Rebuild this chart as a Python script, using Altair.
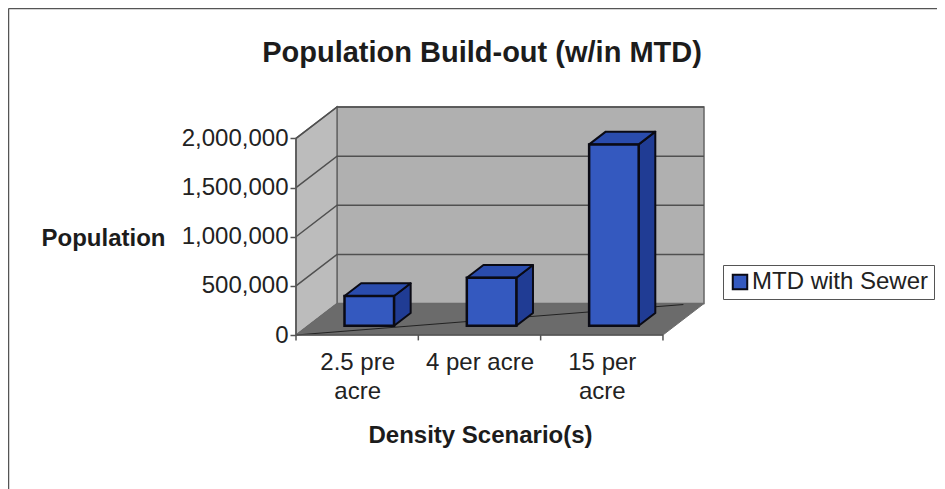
import json
import altair as alt
import pandas as pd

title_text = "Population Build-out (w/in MTD)"
x_title = "Density Scenario(s)"
y_title = "Population"
series_name = "MTD with Sewer"
categories = [["2.5 pre", "acre"], ["4 per acre"], ["15 per", "acre"]]
values = [302000, 488000, 1845000]
y_ticks = [0, 500000, 1000000, 1500000, 2000000]

# Oblique projection of the 3D box: how far the back plane shifts
DX, DY = 0.3355, 320000
D_FRONT, D_BACK = 0.295, 0.70
BAR_W = 0.405
YTOP = 2000000
N = len(categories)
FONT = "Liberation Sans"

xs = alt.Scale(domain=[0, N + DX], nice=False, zero=False)
ys = alt.Scale(domain=[0, YTOP + DY], nice=False, zero=False)
X = lambda f, **k: alt.X(f, type="quantitative", scale=xs, **k)
Y = lambda f, **k: alt.Y(f, type="quantitative", scale=ys, stack=None, **k)


def df(rows):
    return pd.DataFrame(rows)


# back wall
back = alt.Chart(df([{"x": DX, "x2": N + DX, "y": DY, "y2": YTOP + DY}])).mark_rect(
    color="#b0b0b0", stroke="#666666", strokeWidth=1.5
).encode(x=X("x"), x2="x2", y=Y("y"), y2="y2")

# left side wall
side = alt.Chart(df([
    {"x": 0, "y": 0, "y2": YTOP},
    {"x": DX, "y": DY, "y2": YTOP + DY},
])).mark_area(color="#bcbcbc", stroke="#666666", strokeWidth=1.5).encode(
    x=X("x"), y=Y("y"), y2="y2"
)

# floor
floor = alt.Chart(df([
    {"y": 0, "x": 0, "x2": N},
    {"y": DY, "x": DX, "x2": N + DX},
])).mark_area(orient="horizontal", color="#6b6b6b", stroke="#6b6b6b", strokeWidth=1).encode(
    y=Y("y"), x=X("x"), x2="x2"
)

# gridlines over the walls
grid_rows = []
for v in y_ticks[1:]:
    grid_rows += [
        {"g": v, "o": 0, "x": 0, "y": v},
        {"g": v, "o": 1, "x": DX, "y": v + DY},
        {"g": v, "o": 2, "x": N + DX, "y": v + DY},
    ]
grid = alt.Chart(df(grid_rows)).mark_line(color="#505050", strokeWidth=1.5).encode(
    x=X("x"), y=Y("y"), detail="g:N", order="o:Q"
)

# thin diagonal on the floor
diag = alt.Chart(df([
    {"x": 0, "y": 0},
    {"x": 3.167, "y": 310000},
])).mark_line(color="#222222", strokeWidth=1).encode(x=X("x"), y=Y("y"))

# front axis edges
edges = alt.Chart(df([
    {"g": "l", "o": 0, "x": 0, "y": YTOP},
    {"g": "l", "o": 1, "x": 0, "y": 0},
    {"g": "l", "o": 2, "x": N, "y": 0},
])).mark_line(color="#555555", strokeWidth=1.5).encode(
    x=X("x"), y=Y("y"), detail="g:N", order="o:Q"
)

# x tick marks under the front edge
xticks = alt.Chart(df([{"x": i, "y": 0, "y2": -55000} for i in range(N + 1)])).mark_rule(
    color="#555555", strokeWidth=1.5
).encode(x=X("x"), y=Y("y"), y2="y2")

# bar faces
front_rows, side_rows, top_rows = [], [], []
for i, v in enumerate(values):
    left = i + 0.5 + D_FRONT * DX - BAR_W / 2
    right = left + BAR_W
    ddx = (D_BACK - D_FRONT) * DX
    y0 = D_FRONT * DY
    ddy = (D_BACK - D_FRONT) * DY
    front_rows.append({"s": series_name, "x": left, "x2": right, "y": y0, "y2": y0 + v})
    side_rows += [
        {"b": i, "x": right, "y": y0, "y2": y0 + v},
        {"b": i, "x": right + ddx, "y": y0 + ddy, "y2": y0 + ddy + v},
    ]
    top_rows += [
        {"b": i, "y": y0 + v, "x": left, "x2": right},
        {"b": i, "y": y0 + v + ddy, "x": left + ddx, "x2": right + ddx},
    ]

bar_side = alt.Chart(df(side_rows)).mark_area(
    color="#203c94", stroke="#0a0a14", strokeWidth=2, strokeJoin="round"
).encode(x=X("x"), y=Y("y"), y2="y2", detail="b:N")

bar_top = alt.Chart(df(top_rows)).mark_area(
    orient="horizontal", color="#2a4cad", stroke="#0a0a14", strokeWidth=2, strokeJoin="round"
).encode(y=Y("y"), x=X("x"), x2="x2", detail="b:N")

bar_front = alt.Chart(df(front_rows)).mark_rect(stroke="#0a0a14", strokeWidth=2.5).encode(
    x=X("x"),
    x2="x2",
    y=Y("y"),
    y2="y2",
    color=alt.Color(
        "s:N",
        scale=alt.Scale(domain=[series_name], range=["#3459bf"]),
        legend=alt.Legend(
            orient="none",
            legendX=427,
            legendY=158,
            title=None,
            fillColor="white",
            strokeColor="#555555",
            padding=5,
            symbolType="square",
            symbolSize=210,
            symbolStrokeColor="#0a0a14",
            symbolStrokeWidth=2,
            labelFont=FONT,
            labelFontSize=24,
            labelColor="#222222",
            labelOffset=0,
            labelLimit=400,
        ),
    ),
)

# axes (no marks of their own beyond ticks and labels)
label_expr = "%s[floor(datum.value)]" % json.dumps(categories)
axes = alt.Chart(df([{"x": 0, "y": 0}])).mark_point(opacity=0).encode(
    x=alt.X(
        "x:Q",
        scale=xs,
        title=x_title,
        axis=alt.Axis(
            values=[0.5, 1.5, 2.5],
            labelExpr=label_expr,
            domain=False,
            ticks=False,
            grid=False,
            labelFont=FONT,
            labelFontSize=24,
            labelColor="#222222",
            labelLineHeight=29,
            labelPadding=15,
            labelOverlap=False,
            labelFlush=False,
            titleFont=FONT,
            titleFontSize=24,
            titleFontWeight="bold",
            titleColor="#1c1c1c",
            titleX=184,
            titleY=100,
            titleAlign="center",
            titleBaseline="middle",
        ),
    ),
    y=alt.Y(
        "y:Q",
        scale=ys,
        title=y_title,
        axis=alt.Axis(
            values=y_ticks,
            format=",d",
            domain=False,
            grid=False,
            tickSize=6,
            tickColor="#555555",
            tickWidth=1.5,
            labelFont=FONT,
            labelFontSize=24,
            labelColor="#222222",
            labelPadding=2,
            labelOverlap=False,
            labelFlush=False,
            titleFont=FONT,
            titleFontSize=24,
            titleFontWeight="bold",
            titleColor="#1c1c1c",
            titleAngle=0,
            titleX=-193,
            titleY=131,
            titleAlign="center",
            titleBaseline="middle",
        ),
    ),
)

# page frame
frame_left = alt.Chart(df([{"a": 0}])).mark_rule(color="#555555", strokeWidth=1.5).encode(
    x=alt.value(-287.5), y=alt.value(-98.5), y2=alt.value(382)
)
frame_top = alt.Chart(df([{"a": 0}])).mark_rule(color="#555555", strokeWidth=1.5).encode(
    x=alt.value(-287.5), x2=alt.value(641), y=alt.value(-98.5)
)

chart = (
    alt.layer(
        axes, frame_left, frame_top, back, side, floor, grid, diag, edges, xticks,
        bar_side, bar_top, bar_front,
    )
    .resolve_scale(x="shared", y="shared")
    .properties(
        width=408,
        height=228,
        padding={"left": 288, "top": 99, "right": 233, "bottom": 154},
        autosize=alt.AutoSizeParams(type="none"),
        background="white",
        title=alt.TitleParams(
            title_text,
            font=FONT,
            fontSize=29,
            fontWeight="bold",
            color="#1c1c1c",
            anchor="middle",
            frame="group",
            dx=-18,
            dy=60,
            offset=0,
        ),
    )
    .configure_view(stroke=None)
)

chart.save("out.html", embed_options={"renderer": "svg", "actions": False})
